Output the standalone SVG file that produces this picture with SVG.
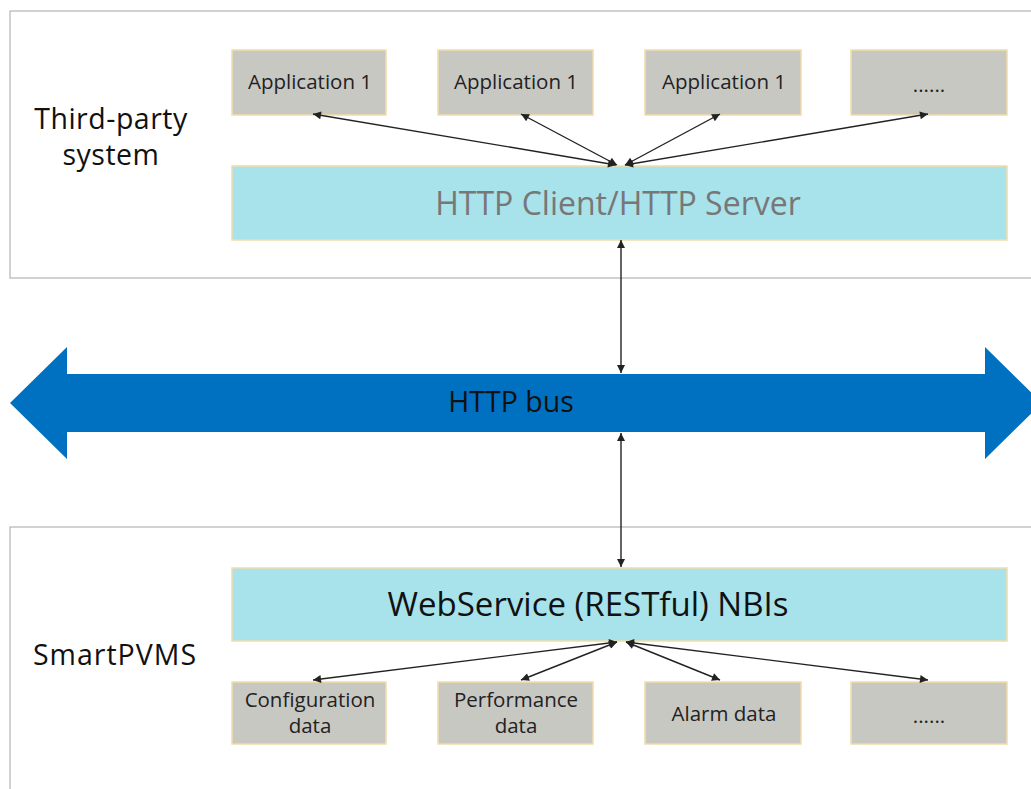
<svg xmlns="http://www.w3.org/2000/svg" width="1031" height="789" viewBox="0 0 1031 789">
<defs>
<marker id="ah" viewBox="0 0 10 10" refX="10" refY="5" markerWidth="10" markerHeight="8" markerUnits="userSpaceOnUse" orient="auto-start-reverse">
<path d="M0,0 L10,5 L0,10 z" fill="#222"/>
</marker>
<style>
.outer{fill:#fff;stroke:#b4b4b4;stroke-width:1.2}
.app{fill:#c8c8c3;stroke:#f2ddaa;stroke-width:1.5}
.cyan{fill:#a8e2ea;stroke:#f2ddaa;stroke-width:1.5}
.t{font-family:"Open Sans","Noto Sans",sans-serif;text-anchor:middle}
.s{font-size:20.5px;fill:#222}
.big{font-size:28.5px;fill:#111}
.c{stroke:#222;stroke-width:1.4;fill:none;marker-start:url(#ah);marker-end:url(#ah)}
</style>
</defs>
<g id="third-party">
<rect class="outer" x="10" y="11" width="1030" height="267"/>
<text class="t big" x="111" y="129" font-size="27" letter-spacing="0.5">Third-party</text>
<text class="t big" x="111" y="165" font-size="27" letter-spacing="0.5">system</text>
</g>
<g id="smartpvms">
<rect class="outer" x="10" y="527" width="1030" height="280"/>
<text class="t big" x="115" y="665" font-size="30" letter-spacing="1">SmartPVMS</text>
</g>
<g id="app1"><rect class="app" x="232" y="50" width="154" height="65"/><text class="t s" x="310" y="89">Application 1</text></g>
<g id="app2"><rect class="app" x="438" y="50" width="155" height="65"/><text class="t s" x="516" y="89">Application 1</text></g>
<g id="app3"><rect class="app" x="645" y="50" width="156" height="65"/><text class="t s" x="724" y="89">Application 1</text></g>
<g id="app4"><rect class="app" x="851" y="50" width="156" height="65"/><text class="t s" x="929" y="92">......</text></g>
<g id="http-client"><rect class="cyan" x="232" y="166" width="775" height="74"/><text class="t" x="618" y="215" font-size="32" fill="#777">HTTP Client/HTTP Server</text></g>
<g id="http-bus">
<polygon points="10,403 67,347 67,374 985,374 985,347 1042,403 985,459 985,432 67,432 67,459" fill="#0070c0"/>
<text class="t big" x="511" y="412">HTTP bus</text>
</g>
<g id="nbi"><rect class="cyan" x="232" y="568" width="775" height="73"/><text class="t" x="588" y="616" font-size="33" fill="#111">WebService (RESTful) NBIs</text></g>
<g id="cfg"><rect class="app" x="232" y="682" width="154" height="62"/><text class="t s" x="310" y="707">Configuration</text><text class="t s" x="310" y="733">data</text></g>
<g id="perf"><rect class="app" x="438" y="682" width="155" height="62"/><text class="t s" x="516" y="707">Performance</text><text class="t s" x="516" y="733">data</text></g>
<g id="alarm"><rect class="app" x="645" y="682" width="156" height="62"/><text class="t s" x="724" y="721">Alarm data</text></g>
<g id="more"><rect class="app" x="851" y="682" width="156" height="62"/><text class="t s" x="929" y="723">......</text></g>
<g id="connectors">
<line class="c" x1="313" y1="114" x2="616" y2="165"/>
<line class="c" x1="521" y1="114" x2="617" y2="165"/>
<line class="c" x1="720" y1="114" x2="625" y2="165"/>
<line class="c" x1="928" y1="114" x2="625" y2="165"/>
<line class="c" x1="621" y1="240" x2="621" y2="373"/>
<line class="c" x1="621" y1="433" x2="621" y2="567"/>
<line class="c" x1="313" y1="680" x2="617" y2="642"/>
<line class="c" x1="521" y1="680" x2="617" y2="642"/>
<line class="c" x1="720" y1="680" x2="626" y2="642"/>
<line class="c" x1="928" y1="680" x2="626" y2="642"/>
</g>
</svg>
